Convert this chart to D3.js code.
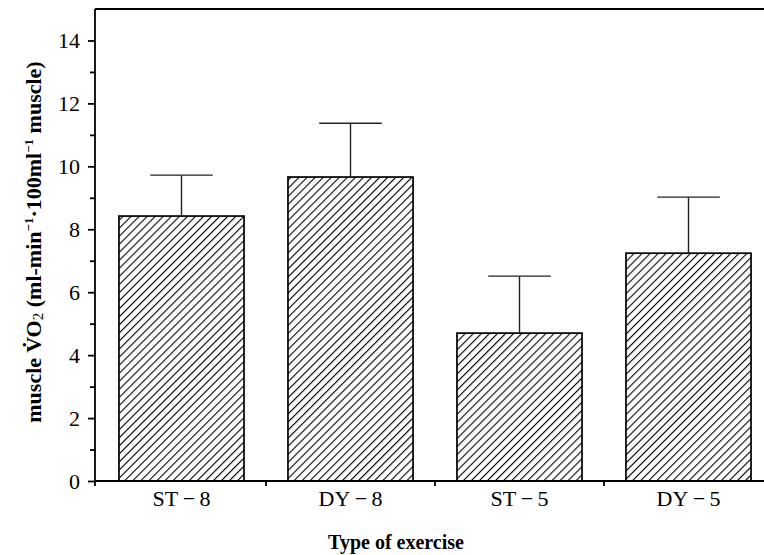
<!DOCTYPE html>
<meta charset="utf-8">
<head>
  <meta charset="utf-8">
  <title>Muscle VO2 by exercise</title>
  <style>
    body { margin: 0; background: #fff; }
    .axis text { font-family: "Liberation Serif", serif; font-size: 22px; fill: #000; }
    .axis path, .axis line { stroke: #000; stroke-width: 1.8; fill: none; }
    .bar { stroke: #000; stroke-width: 1.7; }
    .err { stroke: #222; stroke-width: 1.4; fill: none; }
    .title { font-family: "Liberation Serif", serif; font-weight: bold; fill: #000; }
  </style>
</head>
<body>
<div id="chart"></div>
<script src="https://d3js.org/d3.v7.min.js"></script>
<script>

// data
var categories = ["ST\u2009\u2212\u20098", "DY\u2009\u2212\u20098", "ST\u2009\u2212\u20095", "DY\u2009\u2212\u20095"];
var means = [8.42, 9.66, 4.70, 7.24];
var errors = [1.30, 1.71, 1.81, 1.78];
var majorTicks = [0, 2, 4, 6, 8, 10, 12, 14];
var minorTicks = [1, 3, 5, 7, 9, 11, 13];

var W = 764, H = 555;
var left = 95, baseY = 481, topY = 9;

var svg = d3.select("#chart").append("svg")
    .attr("width", W)
    .attr("height", H);

// hatch pattern for the bars
var defs = svg.append("defs");
defs.append("pattern")
    .attr("id", "hatch")
    .attr("patternUnits", "userSpaceOnUse")
    .attr("width", 5.7)
    .attr("height", 5.7)
    .attr("patternTransform", "rotate(45)")
  .append("line")
    .attr("x1", 0).attr("y1", 0)
    .attr("x2", 0).attr("y2", 5.7)
    .attr("stroke", "#000")
    .attr("stroke-width", 2.2);

var x = d3.scaleBand()
    .domain(categories)
    .range([97, 97 + 4 * 169])
    .paddingInner(0.26)
    .paddingOuter(0.13);

var y = d3.scaleLinear()
    .domain([0, 15])
    .range([baseY, topY]);

// bars
svg.selectAll(".bar")
    .data(categories)
    .enter()
    .append("rect")
      .attr("class", "bar")
      .attr("x", function(d) { return x(d); })
      .attr("y", function(d, i) { return y(means[i]); })
      .attr("width", x.bandwidth())
      .attr("height", function(d, i) { return baseY - y(means[i]); })
      .style("fill", "url(#hatch)");

// error bars (upper only)
var eg = svg.append("g");
categories.forEach(function(d, i) {
  var cx = x(d) + x.bandwidth() / 2;
  var half = x.bandwidth() / 4;
  eg.append("line").attr("class", "err")
    .attr("x1", cx).attr("x2", cx)
    .attr("y1", y(means[i])).attr("y2", y(means[i] + errors[i]));
  eg.append("line").attr("class", "err")
    .attr("x1", cx - half).attr("x2", cx + half)
    .attr("y1", y(means[i] + errors[i])).attr("y2", y(means[i] + errors[i]));
});

// y axis
svg.append("g")
    .attr("class", "axis")
    .attr("transform", "translate(" + left + ",0)")
    .call(d3.axisLeft(y).tickValues(majorTicks).tickSize(7).tickPadding(8).tickFormat(d3.format("d")))
    .call(function(g) { g.select(".domain").remove(); });

svg.append("g")
    .attr("class", "axis")
    .attr("transform", "translate(" + left + ",0)")
    .call(d3.axisLeft(y).tickValues(minorTicks).tickSize(5).tickFormat(""))
    .call(function(g) { g.select(".domain").remove(); });

svg.append("line")
    .attr("stroke", "#000").attr("stroke-width", 1.8)
    .attr("x1", left).attr("x2", left)
    .attr("y1", topY).attr("y2", baseY + 5);

// top frame line
svg.append("line")
    .attr("stroke", "#000").attr("stroke-width", 1.8)
    .attr("x1", left).attr("x2", W)
    .attr("y1", topY).attr("y2", topY);

// x axis
svg.append("line")
    .attr("stroke", "#000").attr("stroke-width", 1.8)
    .attr("x1", left).attr("x2", W)
    .attr("y1", baseY).attr("y2", baseY);

var bounds = categories.slice(1).map(function(d) {
  return x(d) - x.step() * x.paddingInner() / 2;
});
svg.selectAll(".xtick")
    .data(bounds)
    .enter()
    .append("line")
      .attr("stroke", "#000").attr("stroke-width", 1.8)
      .attr("x1", function(d) { return d; })
      .attr("x2", function(d) { return d; })
      .attr("y1", baseY).attr("y2", baseY + 5);

svg.selectAll(".xlab")
    .data(categories)
    .enter()
    .append("text")
      .attr("x", function(d) { return x(d) + x.bandwidth() / 2; })
      .attr("y", 506)
      .attr("text-anchor", "middle")
      .style("font-family", "Liberation Serif, serif")
      .style("font-size", "22px")
      .text(function(d) { return d; });

// axis titles
svg.append("text")
    .attr("class", "title")
    .attr("x", 396)
    .attr("y", 549)
    .attr("text-anchor", "middle")
    .style("font-size", "20px")
    .text("Type of exercise");

var yl = svg.append("text")
    .attr("class", "title")
    .attr("text-anchor", "middle")
    .attr("transform", "translate(41,242) rotate(-90)")
    .style("font-size", "22px");
yl.append("tspan").text("muscle V\u0307O");
yl.append("tspan").style("font-weight", "normal").style("font-size", "15px").attr("dy", 2).text("2");
yl.append("tspan").attr("dy", -2).text(" (ml-min");
yl.append("tspan").style("font-size", "13px").attr("dy", -8).text("\u22121");
yl.append("tspan").attr("dy", 8).text("\u00b7100ml");
yl.append("tspan").style("font-size", "13px").attr("dy", -8).text("\u22121");
yl.append("tspan").attr("dy", 8).text(" muscle)");

</script>
</body>
